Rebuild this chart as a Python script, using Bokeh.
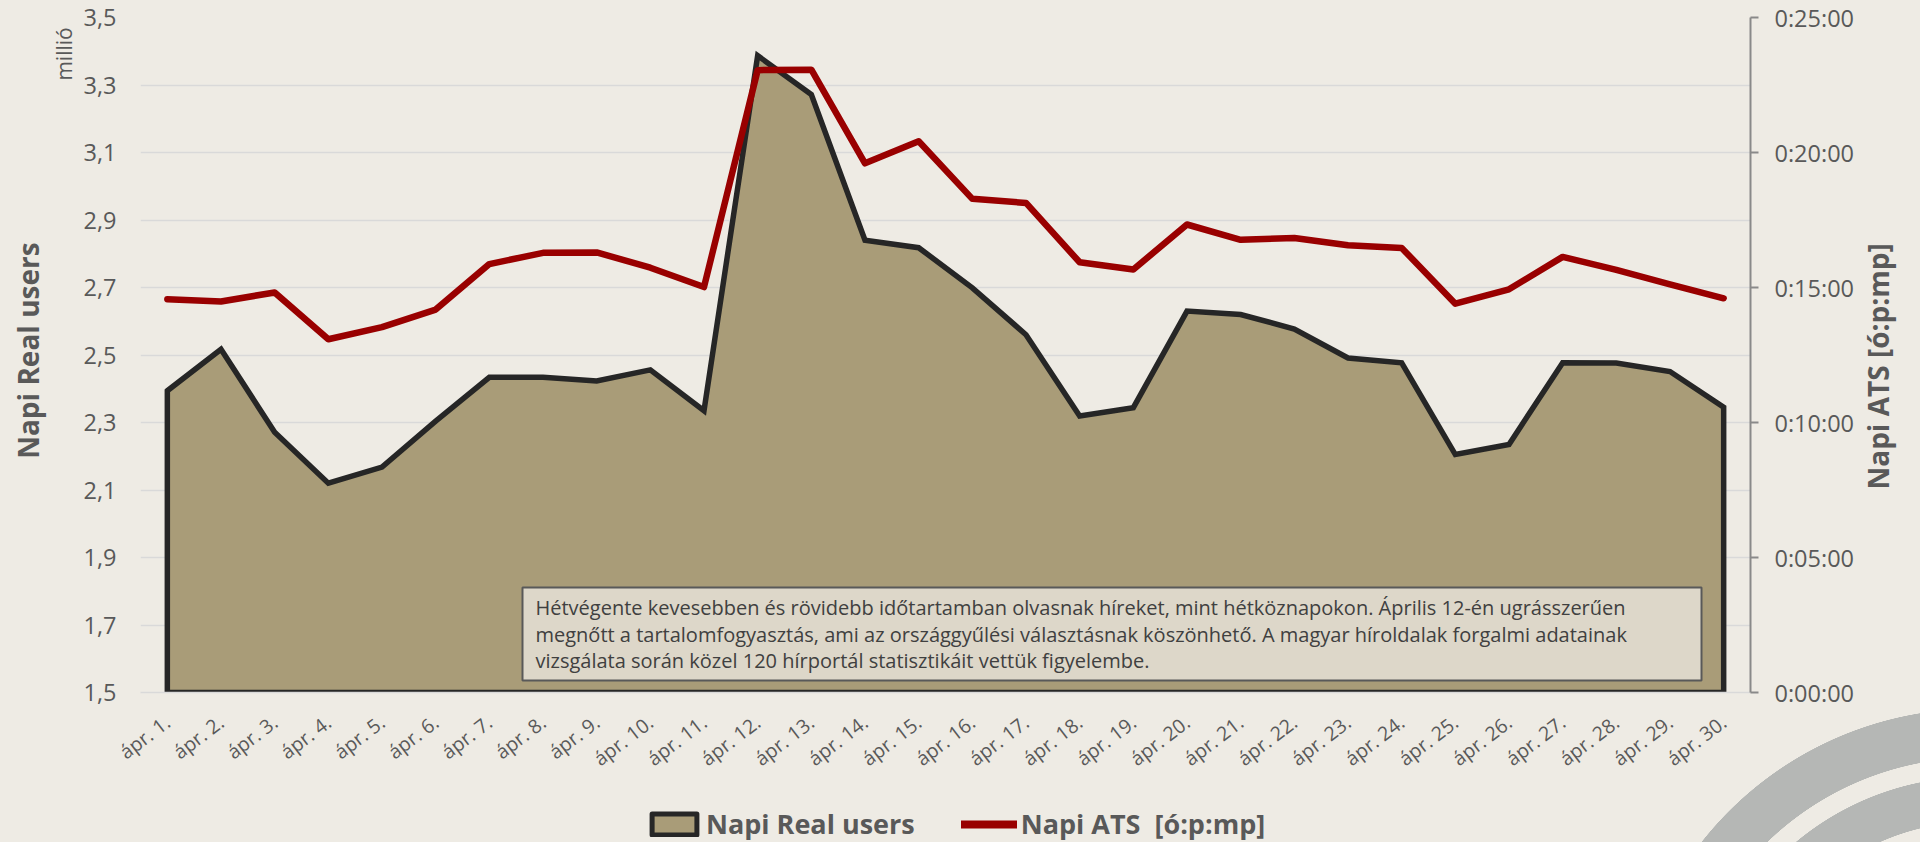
import math
import json
from bokeh.plotting import figure
from bokeh.layouts import column
from bokeh.models import (FactorRange, Range1d, LinearAxis, FixedTicker, CustomJSTickFormatter,
                          Label, BoxAnnotation, Legend, LegendItem)
from bokeh.embed import file_html
from bokeh.resources import INLINE

# ---------------- data ----------------
days = ["ápr. 1.", "ápr. 2.", "ápr. 3.", "ápr. 4.", "ápr. 5.", "ápr. 6.", "ápr. 7.", "ápr. 8.",
        "ápr. 9.", "ápr. 10.", "ápr. 11.", "ápr. 12.", "ápr. 13.", "ápr. 14.", "ápr. 15.",
        "ápr. 16.", "ápr. 17.", "ápr. 18.", "ápr. 19.", "ápr. 20.", "ápr. 21.", "ápr. 22.",
        "ápr. 23.", "ápr. 24.", "ápr. 25.", "ápr. 26.", "ápr. 27.", "ápr. 28.", "ápr. 29.",
        "ápr. 30."]

# Napi Real users (millió)
real_users = [2.394, 2.517, 2.271, 2.120, 2.168, 2.304, 2.434, 2.434, 2.423, 2.456,
              2.335, 3.387, 3.272, 2.840, 2.818, 2.699, 2.560, 2.319, 2.344, 2.630,
              2.620, 2.577, 2.491, 2.477, 2.205, 2.235, 2.477, 2.476, 2.451, 2.345]

# Napi ATS in seconds
ats_seconds = [874, 869, 889, 785, 812, 851, 952, 977, 978, 944,
               901, 1383, 1384, 1176, 1225, 1097, 1088, 956, 940, 1040,
               1006, 1010, 994, 988, 864, 896, 968, 939, 907, 876]

left_ticks = [1.5, 1.7, 1.9, 2.1, 2.3, 2.5, 2.7, 2.9, 3.1, 3.3, 3.5]
right_ticks = [0, 300, 600, 900, 1200, 1500]

series_names = ["Napi Real users", "Napi ATS  [ó:p:mp]"]
left_title = "Napi Real users"
right_title = "Napi ATS [ó:p:mp]"
unit_label = "millió"
note_lines = [
    "Hétvégente kevesebben és rövidebb időtartamban olvasnak híreket, mint hétköznapokon. Április 12-én ugrásszerűen",
    "megnőtt a tartalomfogyasztás, ami az országgyűlési választásnak köszönhető. A magyar híroldalak forgalmi adatainak",
    "vizsgálata során közel 120 hírportál statisztikáit vettük figyelembe.",
]

# ---------------- style ----------------
BG = "#EEEBE4"
GRID = "#D9D9D9"
TXT = "#595959"
FONT = "Open Sans"
AREA_FILL = "#A99C78"
AREA_LINE = "#262626"
RED = "#990000"

MAIN_H = 790
LEG_H = 842 - MAIN_H

p = figure(width=1920, height=MAIN_H, x_range=FactorRange(*days), y_range=Range1d(1.5, 3.5),
           output_backend="svg", toolbar_location=None,
           min_border_left=140, min_border_right=170, min_border_top=17,
           min_border_bottom=MAIN_H - 692)
p.background_fill_color = BG
p.border_fill_color = BG
p.border_fill_alpha = 0
p.outline_line_color = None

left_ticker = FixedTicker(ticks=left_ticks)
p.yaxis[0].ticker = left_ticker
p.ygrid[0].ticker = left_ticker
p.ygrid.grid_line_color = GRID
p.ygrid.grid_line_width = 1.5
p.xgrid.grid_line_color = None

ya = p.yaxis[0]
ya.formatter = CustomJSTickFormatter(code="return tick.toFixed(1).replace('.', ',');")
ya.axis_line_color = None
ya.major_tick_line_color = None
ya.minor_tick_line_color = None
ya.major_tick_out = 0
ya.major_label_standoff = 24
ya.major_label_text_font = FONT
ya.major_label_text_font_size = "23.5px"
ya.major_label_text_color = TXT

xa = p.xaxis[0]
xa.major_label_orientation = 0.65
xa.major_label_text_font = FONT
xa.major_label_text_font_size = "19.5px"
xa.major_label_text_color = TXT
xa.major_tick_line_color = None
xa.minor_tick_line_color = None
xa.major_tick_out = 0
xa.axis_line_color = GRID
xa.axis_line_width = 1.5
xa.major_label_standoff = 27


def text_axis(text, at, size, style, standoff, side, orientation, y_range_name="default"):
    """An axis with one tick whose label is a rotated title text."""
    ax = LinearAxis(ticker=FixedTicker(ticks=[at]), y_range_name=y_range_name,
                    formatter=CustomJSTickFormatter(code="return %s;" % json.dumps(text)),
                    major_label_orientation=orientation, major_label_standoff=standoff,
                    major_label_text_font=FONT, major_label_text_font_size=size,
                    major_label_text_font_style=style, major_label_text_color=TXT,
                    axis_line_color=None, major_tick_line_color=None, minor_tick_line_color=None,
                    major_tick_out=0, minor_tick_out=0)
    p.add_layout(ax, side)
    return ax


# unit label and left title, centred on their ticks
text_axis(unit_label, 3.392, "21px", "normal", 2, "left", "vertical")
text_axis(left_title, 2.513, "28px", "bold", 0, "left", "vertical")

p.extra_y_ranges = {"ats": Range1d(0, 1500)}
ra = LinearAxis(y_range_name="ats", ticker=FixedTicker(ticks=right_ticks),
                formatter=CustomJSTickFormatter(code="""
const h = Math.floor(tick / 3600);
const m = Math.floor((tick % 3600) / 60);
const s = Math.round(tick % 60);
return h + ':' + String(m).padStart(2, '0') + ':' + String(s).padStart(2, '0');
"""))
ra.axis_line_color = "#898989"
ra.axis_line_width = 2
ra.major_tick_line_color = "#898989"
ra.major_tick_line_width = 2
ra.major_tick_out = 8
ra.major_tick_in = 0
ra.minor_tick_line_color = None
ra.major_label_standoff = 16
ra.major_label_text_font = FONT
ra.major_label_text_font_size = "23.5px"
ra.major_label_text_color = TXT
p.add_layout(ra, "right")
# right title (reads upward, starts at the tick)
text_axis(right_title, 451, "28px", "bold", 21, "right", math.pi / 2, "ats")

# ---------------- glyphs ----------------
area = p.patch(x=days + [days[-1], days[0]], y=real_users + [1.5, 1.5],
               fill_color=AREA_FILL, line_color=AREA_LINE, line_width=5.5, line_join="miter")
ats_line = p.line(x=days, y=ats_seconds, y_range_name="ats", line_color=RED,
                  line_width=6.5, line_join="round", line_cap="round")

# ---------------- annotation box ----------------
box = BoxAnnotation(left=382, right=1561, top=105, bottom=12,
                    left_units="screen", right_units="screen", top_units="screen", bottom_units="screen",
                    fill_color="#DDD7C9", fill_alpha=1, line_color="#595959", line_width=2, line_alpha=1)
p.add_layout(box)
for i, line in enumerate(note_lines):
    p.add_layout(Label(x=395, y=85 - 26.5 * i, x_units="screen", y_units="screen", text=line,
                       text_align="left", text_baseline="middle", text_font=FONT,
                       text_font_size="20px", text_color="#404040"))

# ---------------- legend strip (own small figure below the chart) ----------------
# the same series are drawn there outside its visible y range; only the legend shows
lg = figure(width=1920, height=LEG_H, x_range=FactorRange(*days), y_range=Range1d(0, 1),
            extra_y_ranges={"ats": Range1d(0, 1)},
            output_backend="svg", toolbar_location=None, x_axis_type=None, y_axis_type=None,
            min_border=0, min_border_left=0, min_border_right=0, min_border_top=0, min_border_bottom=0)
lg.background_fill_alpha = 0
lg.border_fill_alpha = 0
lg.outline_line_color = None
lg.grid.visible = False
sw_area = lg.patch(x=days + [days[-1], days[0]], y=real_users + [1.5, 1.5],
                   fill_color=AREA_FILL, line_color=AREA_LINE, line_width=5, line_join="round")
sw_line = lg.line(x=days, y=ats_seconds, y_range_name="ats", line_color=RED, line_width=8,
                  line_cap="round")
legend = Legend(items=[LegendItem(label=series_names[0], renderers=[sw_area]),
                       LegendItem(label=series_names[1], renderers=[sw_line])],
                location=(506, 0), orientation="horizontal",
                glyph_width=56, glyph_height=26, label_standoff=4, spacing=46,
                padding=0, margin=0, border_line_color=None, background_fill_alpha=0,
                label_text_font=FONT, label_text_font_style="bold",
                label_text_font_size="27px", label_text_color=TXT)
lg.add_layout(legend)

layout = column(p, lg, spacing=0)

# decorative rings in the bottom-right corner (page background, outside the plot frame)
ring_css = ("radial-gradient(circle at 1976px 1058px, rgba(0,0,0,0) 236px, #B5B7B5 236.5px, "
            "#B5B7B5 281px, rgba(0,0,0,0) 281.5px, rgba(0,0,0,0) 300px, #B5B7B5 300.5px, "
            "#B5B7B5 349px, rgba(0,0,0,0) 349.5px)")
style = ("<style>html { background-color: %s; background-image: %s; background-repeat: no-repeat; "
         "background-size: 1920px 842px; } body { background: transparent; }</style>" % (BG, ring_css))

html = file_html(layout, INLINE)
html = html.replace("</head>", style + "</head>", 1)
open("out.html", "w").write(html)
